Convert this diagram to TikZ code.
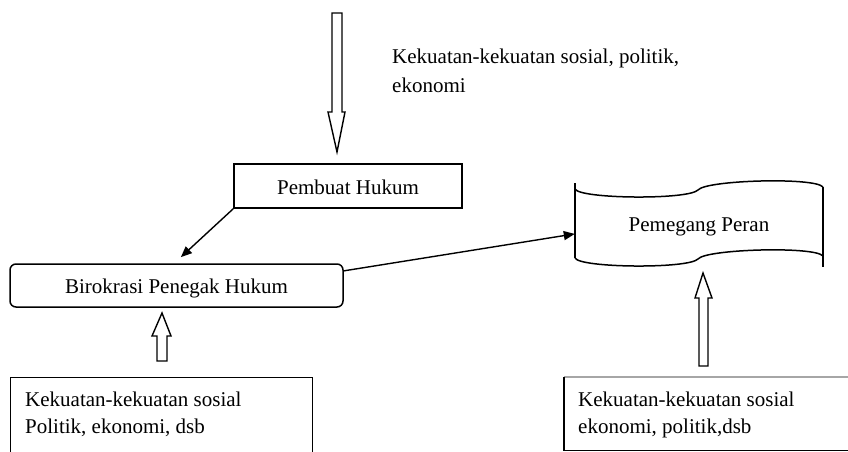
\documentclass[tikz,border=0pt]{standalone}
\usepackage{fontspec}
\setmainfont{Liberation Serif}
\usetikzlibrary{arrows.meta,calc}
\begin{document}
\begin{tikzpicture}[x=1pt,y=-1pt,
  txt/.style={font=\fontsize{21}{27}\selectfont},
  box/.style={txt, draw, line width=1.5pt, inner sep=0pt, text height=16pt, text depth=0pt},
  plain/.style={txt, inner sep=0pt, text height=16pt, text depth=0pt},
  conn/.style={line width=1.4pt, -{Triangle[length=11pt,width=9pt]}},
  blockarrow/.style={draw, line width=1.4pt, fill=white, line join=miter},
  tape/.style={line width=1.5pt}]
\useasboundingbox (0,0) rectangle (848,451);

% boxes
\node[box, minimum width=228pt, minimum height=44pt] (ph) at (348,186) {Pembuat Hukum};
\node[box, rounded corners=6pt, minimum width=333pt, minimum height=43pt] (bh) at (176.5,285.5) {Birokrasi Penegak Hukum};
\node[plain, minimum width=248pt, minimum height=69pt] (pp) at (699,223) {Pemegang Peran};

% tape outline of Pemegang Peran
\draw[tape] (575,183) -- (575,258);
\draw[tape] (823,187) -- (823,267);
\draw[tape] (575,189) .. controls (580,199) and (688,200) .. (698,190)
                      .. controls (706,180) and (815,177) .. (823,187);
\draw[tape] (575,258) .. controls (580,268) and (688,269) .. (698,259)
                      .. controls (706,249) and (815,246) .. (823,256);

% bottom boxes (cut by the page edge)
\node[draw, line width=1.3pt, anchor=north west, minimum width=302pt, minimum height=100pt, inner sep=0pt] (kl) at (10,377) {};
\node[anchor=north west, minimum width=300pt, minimum height=73pt, inner sep=0pt] (kr) at (564,377) {};
\draw[line width=1.3pt, gray!70] (kr.north west) -- (kr.north east);
\draw[line width=1.3pt] (kr.north west) -- (kr.south west) -- (kr.south east);

% texts
\node[txt, anchor=north west, align=left, inner sep=0pt] (topt) at (392,48.7)
  {Kekuatan-kekuatan sosial, politik,\\[2pt]ekonomi};
\node[txt, anchor=north west, align=left, inner sep=0pt] (klt) at (25,391.7)
  {Kekuatan-kekuatan sosial\\Politik, ekonomi, dsb};
\node[txt, anchor=north west, align=left, inner sep=0pt] (krt) at (578,391.7)
  {Kekuatan-kekuatan sosial\\ekonomi, politik,dsb};

% block arrows
\draw[blockarrow] (332,13) -- (342,13) -- (342,112) -- (345,112) -- (337,152) -- (328,112) -- (332,112) -- cycle;
\draw[blockarrow] (157,361) -- (157,336) -- (152,336) -- (162,313) -- (171,336) -- (167,336) -- (167,361) -- cycle;
\draw[blockarrow] (699,366) -- (699,298) -- (695,298) -- (703,273) -- (712,298) -- (708,298) -- (708,366) -- cycle;

% connectors
\coordinate (bhin) at ($(bh.north west)+(165,0)$);
\draw[conn, shorten >=9pt] (ph.south west) -- (bhin);
\draw[conn] (bh.5) -- (pp.185);
\end{tikzpicture}
\end{document}
